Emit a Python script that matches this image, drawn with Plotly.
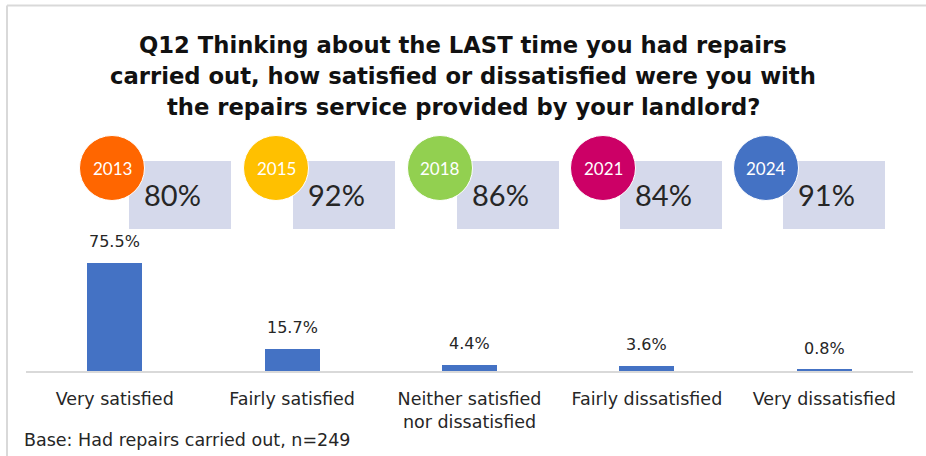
import plotly.graph_objects as go

# Survey responses (percent of respondents)
categories = ["Very satisfied", "Fairly satisfied", "Neither satisfied<br>nor dissatisfied",
              "Fairly dissatisfied", "Very dissatisfied"]
values = [75.5, 15.7, 4.4, 3.6, 0.8]

# Overall satisfaction by survey year
years = ["2013", "2015", "2018", "2021", "2024"]
overall = ["80%", "92%", "86%", "84%", "91%"]
year_colors = ["#FF6600", "#FFC000", "#92D050", "#CC0066", "#4472C4"]

title_lines = ["Q12 Thinking about the LAST time you had repairs",
               "carried out, how satisfied or dissatisfied were you with",
               "the repairs service provided by your landlord?"]

W, H = 926, 456
L, R, T, B = 26, 913, 228, 371  # plot area in pixels


def px(x):
    return (x - L) / (R - L)


def py(y):
    return (B - y) / (B - T)


SANS = "DejaVu Sans"
ROUND = "Lato"
TXT = "#262626"

fig = go.Figure(go.Bar(
    x=categories, y=values, width=0.31,
    marker=dict(color="#4472C4", line=dict(width=0)),
    hoverinfo="skip",
))

annotations = []
for c, v in zip(categories, values):
    annotations.append(dict(x=c, y=v, xref="x", yref="y", text=f"{v:.1f}%",
                            showarrow=False, yanchor="bottom", yshift=10,
                            font=dict(family=SANS, size=16, color=TXT)))

shapes = []
# frame lines along top and left
shapes.append(dict(type="line", xref="paper", yref="paper", x0=px(7), x1=px(W),
                   y0=py(5.5), y1=py(5.5), line=dict(color="#D9D9D9", width=2)))
shapes.append(dict(type="line", xref="paper", yref="paper", x0=px(7), x1=px(7),
                   y0=py(5.5), y1=py(H), line=dict(color="#D9D9D9", width=2)))

centers = [112, 276, 440, 603, 766]
for cx, yr, ov, col in zip(centers, years, overall, year_colors):
    bx0, bx1, by0, by1 = cx + 17, cx + 119, 161, 229
    shapes.append(dict(type="rect", xref="paper", yref="paper", layer="above",
                       x0=px(bx0), x1=px(bx1), y0=py(by1), y1=py(by0),
                       fillcolor="#D5D9EB", line=dict(width=0)))
    r = 32.5
    shapes.append(dict(type="circle", xref="paper", yref="paper", layer="above",
                       x0=px(cx - r), x1=px(cx + r), y0=py(168 + r), y1=py(168 - r),
                       fillcolor=col, line=dict(color="white", width=1)))
    annotations.append(dict(x=px(cx), y=py(168), xref="paper", yref="paper", text=yr,
                            xanchor="center", yanchor="middle", showarrow=False,
                            font=dict(family=ROUND, size=17, color="white")))
    annotations.append(dict(x=px(cx + 60), y=py(194), xref="paper", yref="paper", text=ov,
                            xanchor="center", yanchor="middle", showarrow=False,
                            font=dict(family=ROUND, size=29, color=TXT)))

for i, line in enumerate(title_lines):
    annotations.append(dict(
        x=px(W / 2), y=py(45 + 31 * i), xref="paper", yref="paper", showarrow=False,
        xanchor="center", yanchor="middle", text=f"<b>{line}</b>",
        font=dict(family=SANS, size=22.7, color="#111111")))

annotations.append(dict(
    x=px(22), y=py(440), xref="paper", yref="paper", showarrow=False,
    xanchor="left", yanchor="middle", text="Base: Had repairs carried out, n=249",
    font=dict(family=SANS, size=17.5, color=TXT)))

fig.update_layout(
    width=W, height=H,
    margin=dict(l=L, r=W - R, t=T, b=H - B, pad=0),
    paper_bgcolor="white", plot_bgcolor="white",
    showlegend=False, bargap=0,
    xaxis=dict(showline=True, linecolor="#D9D9D9", linewidth=2, ticks="",
               showgrid=False, zeroline=False, ticklabelstandoff=11,
               tickfont=dict(family=SANS, size=17.5, color=TXT)),
    yaxis=dict(range=[0, 100], visible=False, showgrid=False, zeroline=False),
    shapes=shapes, annotations=annotations,
)

fig.write_html("out.html")
